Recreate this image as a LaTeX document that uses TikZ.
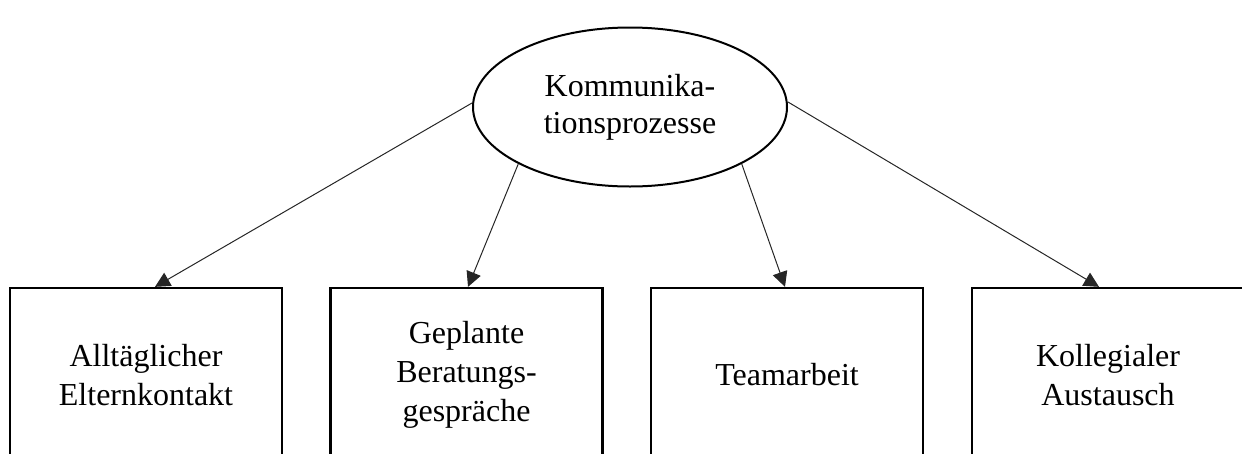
\documentclass[tikz,border=0pt]{standalone}
\usepackage{fontspec}
\setmainfont{Liberation Serif}
\usetikzlibrary{shapes.geometric,arrows.meta}

\tikzset{
  topic/.style={ellipse, draw, line width=2pt, minimum width=314pt, minimum height=159pt,
    inner sep=0pt, align=center, font=\fontsize{32}{37}\selectfont},
  area/.style={rectangle, draw, line width=2.3pt, minimum width=272pt, minimum height=174pt,
    inner sep=0pt, align=center, font=\fontsize{32}{39}\selectfont},
  link/.style={line width=1pt, draw=black!85, -{Triangle[length=15pt,width=15pt]}},
}

\begin{document}
\begin{tikzpicture}[x=1pt, y=-1pt]
  \useasboundingbox (0,0) rectangle (1242,453);
  \clip (0,0) rectangle (1242,453);

  % central topic
  \node[topic] (e) at (630,107) {Kommunika-\\tionsprozesse};

  % the four areas (their lower edges run below the page)
  \node[area] (b1) at (146,375) {Alltäglicher\\Elternkontakt};
  \node[area] (b2) at (466.5,375) {Geplante\\Beratungs-\\gespräche};
  \node[area] (b3) at (787,375) {Teamarbeit};
  \node[area] (b4) at (1108,375) {Kollegialer\\Austausch};

  % connectors
  \draw[link] ([yshift=4pt]e.west) -- ([xshift=9pt]b1.north);
  \draw[link] (e.south west) -- ([xshift=1.5pt]b2.north);
  \draw[link] (e.south east) -- ([xshift=-2pt]b3.north);
  \draw[link] ([yshift=5pt]e.east) -- ([xshift=-9pt]b4.north);
\end{tikzpicture}
\end{document}
